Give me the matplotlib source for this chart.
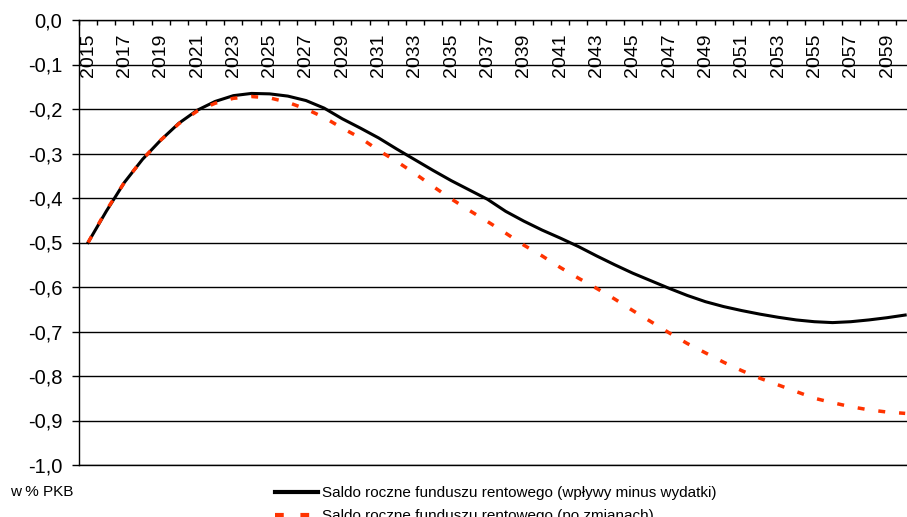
import numpy as np
import matplotlib
matplotlib.use("Agg")
import matplotlib.pyplot as plt
from matplotlib.lines import Line2D

plt.rcParams["font.family"] = ["Liberation Sans", "DejaVu Sans"]

years = list(range(2015, 2061))
saldo = [-0.500, -0.430, -0.365, -0.313, -0.270, -0.232, -0.203, -0.183, -0.170, -0.165,
         -0.166, -0.171, -0.181, -0.198, -0.222, -0.243, -0.265, -0.290, -0.314, -0.338,
         -0.361, -0.382, -0.403, -0.430, -0.452, -0.472, -0.490, -0.509, -0.530, -0.550,
         -0.569, -0.586, -0.603, -0.619, -0.633, -0.644, -0.653, -0.661, -0.668, -0.674,
         -0.678, -0.680, -0.678, -0.674, -0.669, -0.663]
saldo_zmiany = [-0.500, -0.428, -0.365, -0.313, -0.270, -0.233, -0.205, -0.187, -0.176, -0.172,
                -0.175, -0.185, -0.200, -0.219, -0.243, -0.265, -0.293, -0.318, -0.345, -0.374,
                -0.402, -0.428, -0.453, -0.479, -0.506, -0.530, -0.556, -0.580, -0.603, -0.627,
                -0.653, -0.678, -0.703, -0.727, -0.748, -0.769, -0.788, -0.805, -0.820, -0.835,
                -0.850, -0.860, -0.869, -0.876, -0.881, -0.884]
y_ticks = [round(-0.1 * i, 1) for i in range(11)]
labels = ["Saldo roczne funduszu rentowego (wpływy minus wydatki)",
          "Saldo roczne funduszu rentowego (po zmianach)"]

W, H = 907, 517
fig = plt.figure(figsize=(W / 100, H / 100), dpi=100)
ax = fig.add_axes([79 / W, 52 / H, 828 / W, 445 / H])

ax.plot(years, saldo, color="black", lw=2.2, zorder=3)
ax.plot(years, saldo_zmiany, color="#ff3300", lw=2.5, ls=(0, (2, 4)), zorder=4)

ax.set_xlim(2014.5, 2060.1)
ax.set_ylim(-1.0, 0.0)

# y axis: comma decimals, gridlines across
ax.set_yticks(y_ticks)
ax.set_yticklabels(["0,0" if v == 0 else f"{v:.1f}".replace(".", ",") for v in y_ticks])
ax.tick_params(axis="y", direction="out", length=5, width=1, pad=7, labelsize=14.5,
               color="black")
ax.yaxis.grid(True, color="black", lw=1.0)
ax.set_axisbelow(True)

# x axis on top: ticks at year boundaries, labels inside the plot
ax.xaxis.set_ticks_position("top")
ax.set_xticks(years[::2])
ax.set_xticks(np.arange(2014.5, 2060.5, 1.0), minor=True)
ax.tick_params(axis="x", which="major", length=0, labeltop=True, labelbottom=False,
               labelrotation=90, pad=-41, labelsize=14)
ax.tick_params(axis="x", which="minor", direction="in", length=3.6, width=1, color="black")

ax.spines["right"].set_visible(False)
for side in ["left", "top", "bottom"]:
    ax.spines[side].set_linewidth(1.0)

handles = [Line2D([], [], color="black", lw=3),
           Line2D([], [], color="#ff3300", lw=3, ls=(0, (2.1, 4)))]
fig.legend(handles, labels, loc="upper left", bbox_to_anchor=(275 / W, 31 / H),
           frameon=False, fontsize=11, borderpad=0, borderaxespad=0,
           handlelength=2.8, handletextpad=0.3, labelspacing=0.6)
fig.text(10 / W, 25 / H, "w % PKB", fontsize=11, va="center", ha="left")

fig.savefig("out.png", dpi=100)
